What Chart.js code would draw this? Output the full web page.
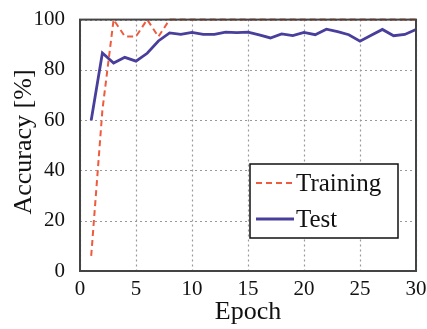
<!DOCTYPE html>
<html>
<head>
<meta charset="utf-8">
<script src="https://cdn.jsdelivr.net/npm/chart.js@4"></script>
<style>
  html, body { margin: 0; padding: 0; background: #fff; }
  #wrap { width: 427px; height: 329px; }
</style>
</head>
<body>
<div id="wrap"><canvas id="myChart" width="427" height="329"></canvas></div>
<script>
var epochs = [1,2,3,4,5,6,7,8,9,10,11,12,13,14,15,16,17,18,19,20,21,22,23,24,25,26,27,28,29,30];
var training = [6,64,100,93.3,93.3,100,93.2,100,100,100,100,100,100,100,100,100,100,100,100,100,100,100,100,100,100,100,100,100,100,100];
var test = [60,86.7,82.7,85,83.5,86.6,91.5,94.7,94.1,94.9,94.1,94.1,95,94.8,95,93.9,92.7,94.3,93.6,94.9,94,96.2,95.2,94,91.4,93.8,96.1,93.6,94.1,96.1];
var xTicks = [0,5,10,15,20,25,30];
var yTicks = [0,20,40,60,80,100];
var xTitle = 'Epoch';
var yTitle = 'Accuracy [%]';

var serif = "'Liberation Serif', 'Times New Roman', serif";

// dotted grid behind the lines
var gridPlugin = {
  id: 'dotgrid',
  beforeDatasetsDraw: function(chart) {
    var c = chart.ctx, a = chart.chartArea;
    var xs = chart.scales.x, ys = chart.scales.y;
    c.save();
    c.strokeStyle = '#999';
    c.lineWidth = 1.2;
    c.setLineDash([2, 3]);
    xTicks.forEach(function(v) {
      var px = Math.round(xs.getPixelForValue(v)) + 0.5;
      c.beginPath(); c.moveTo(px, a.top); c.lineTo(px, a.bottom); c.stroke();
    });
    yTicks.forEach(function(v) {
      var py = Math.round(ys.getPixelForValue(v)) + 0.5;
      c.beginPath(); c.moveTo(a.left, py); c.lineTo(a.right, py); c.stroke();
    });
    c.restore();
  }
};

// frame, axis titles and boxed legend
var framePlugin = {
  id: 'frame',
  afterDatasetsDraw: function(chart) {
    var c = chart.ctx, a = chart.chartArea;
    c.save();
    c.strokeStyle = '#444';
    c.lineWidth = 2;
    c.strokeRect(a.left, a.top, a.right - a.left, a.bottom - a.top);

    c.fillStyle = '#111';
    c.font = '26px ' + serif;
    c.textAlign = 'center';
    c.textBaseline = 'middle';
    c.fillText(xTitle, (a.left + a.right) / 2, 312);
    c.save();
    c.translate(24, 142);
    c.rotate(-Math.PI / 2);
    c.fillText(yTitle, 0, 0);
    c.restore();

    var bx = 250, by = 164, bw = 148, bh = 74;
    c.fillStyle = '#fff';
    c.fillRect(bx, by, bw, bh);
    c.strokeStyle = '#111';
    c.lineWidth = 1.5;
    c.strokeRect(bx, by, bw, bh);
    c.font = '25px ' + serif;
    c.textAlign = 'left';
    chart.data.datasets.forEach(function(ds, i) {
      var y = by + 19 + i * 36;
      c.strokeStyle = ds.borderColor;
      c.lineWidth = ds.borderWidth;
      c.setLineDash(ds.borderDash || []);
      c.beginPath();
      c.moveTo(bx + 6, y);
      c.lineTo(bx + 44, y);
      c.stroke();
      c.setLineDash([]);
      c.fillStyle = '#111';
      c.fillText(ds.label, bx + 46, y + 1);
    });
    c.restore();
  }
};

var ctx = document.getElementById('myChart').getContext('2d');
var chart = new Chart(ctx, {
  type: 'line',
  data: {
    datasets: [{
      label: 'Training',
      data: epochs.map(function(e, i) { return {x: e, y: training[i]}; }),
      borderColor: '#EE5B3E',
      borderWidth: 2,
      borderDash: [6, 4],
      pointRadius: 0,
      fill: false
    },
    {
      label: 'Test',
      data: epochs.map(function(e, i) { return {x: e, y: test[i]}; }),
      borderColor: '#483E9C',
      borderWidth: 2.8,
      pointRadius: 0,
      fill: false
    }]
  },
  options: {
    responsive: false,
    animation: false,
    clip: false,
    layout: { padding: { top: 15, right: 11, left: 0, bottom: 0 } },
    plugins: { legend: { display: false }, tooltip: { enabled: false } },
    scales: {
      x: {
        type: 'linear',
        min: 0, max: 30,
        afterBuildTicks: function(s) { s.ticks = xTicks.map(function(v) { return {value: v}; }); },
        afterFit: function(s) { s.height = 58; },
        grid: { display: false },
        border: { display: false },
        ticks: { color: '#111', font: { family: serif, size: 21 }, padding: -2, maxRotation: 0 }
      },
      y: {
        min: 0, max: 100,
        afterBuildTicks: function(s) { s.ticks = yTicks.map(function(v) { return {value: v}; }); },
        afterFit: function(s) { s.width = 80; },
        grid: { display: false },
        border: { display: false },
        ticks: { color: '#111', font: { family: serif, size: 21 }, padding: 7 }
      }
    }
  },
  plugins: [gridPlugin, framePlugin]
});
</script>
</body>
</html>
